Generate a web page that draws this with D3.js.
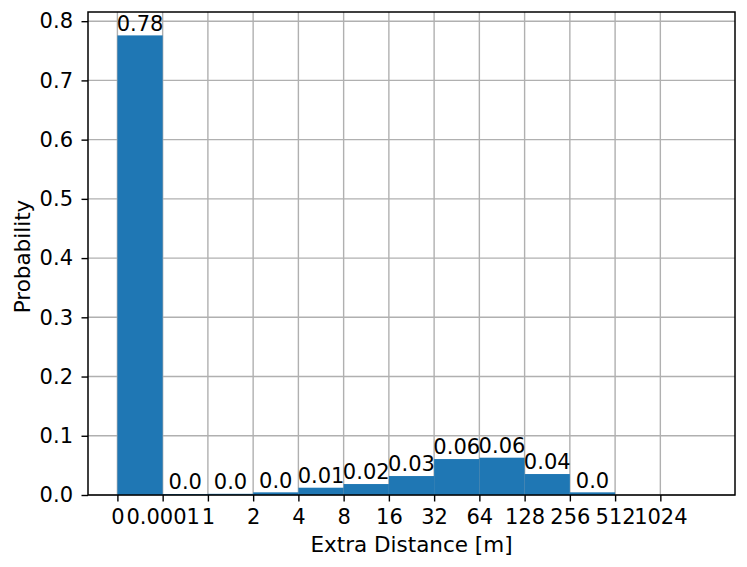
<!DOCTYPE html>
<html>
<head>
<meta charset="utf-8">
<script src="https://cdn.jsdelivr.net/npm/d3@7"></script>
<style>
  html, body { margin: 0; padding: 0; background: #fff; }
  svg text { font-family: "DejaVu Sans", sans-serif; fill: #000; }
</style>
</head>
<body>
<svg id="chart" width="747" height="567"></svg>
<script>
// Tick labels at bin edges
const edgeLabels = ["0", "0.0001", "1", "2", "4", "8", "16", "32", "64", "128", "256", "512", "1024"];
// Bar probabilities per bin (bin i spans edge i to edge i+1)
const probabilities = [0.776, 0.0017, 0.002, 0.0045, 0.0123, 0.0185, 0.032, 0.0607, 0.063, 0.0354, 0.0045];
const yTicks = [0.0, 0.1, 0.2, 0.3, 0.4, 0.5, 0.6, 0.7, 0.8];

(function () {
const svg = d3.select("#chart");
const mLeft = 88, mRight = 735, mTop = 12, mBottom = 495;
const fontSize = 21;
const labelSize = 21.5;

const x = d3.scaleLinear().domain([-0.65, 13.65]).range([mLeft, mRight]);
const y = d3.scaleLinear().domain([0, 0.8155]).range([mBottom, mTop]);

// grid
const grid = svg.append("g");
grid.selectAll("line.vg").data(edgeLabels).enter().append("line")
  .attr("x1", (d, i) => x(i)).attr("x2", (d, i) => x(i))
  .attr("y1", mTop).attr("y2", mBottom)
  .attr("stroke", "#b0b0b0").attr("stroke-width", 1.4);
grid.selectAll("line.hg").data(yTicks).enter().append("line")
  .attr("x1", mLeft).attr("x2", mRight)
  .attr("y1", d => y(d)).attr("y2", d => y(d))
  .attr("stroke", "#b0b0b0").attr("stroke-width", 1.4);

// bars
svg.append("g").selectAll("rect").data(probabilities).enter().append("rect")
  .attr("x", (d, i) => x(i))
  .attr("width", (d, i) => x(i + 1) - x(i))
  .attr("y", d => y(d))
  .attr("height", d => y(0) - y(d))
  .attr("fill", "#1f77b4");

// bar labels (python-style round to 2 decimals)
const fmt = v => { const r = Math.round(v * 100) / 100; return r === 0 ? "0.0" : String(r); };
svg.append("g").selectAll("text").data(probabilities).enter().append("text")
  .attr("x", (d, i) => x(i + 0.5))
  .attr("y", d => y(d) - 4.8)
  .attr("text-anchor", "middle")
  .attr("font-size", fontSize)
  .text(fmt);

// axes
const xAxis = d3.axisBottom(x)
  .tickValues(d3.range(edgeLabels.length))
  .tickFormat(i => edgeLabels[i])
  .tickSize(6.5).tickPadding(4).tickSizeOuter(0);
const gx = svg.append("g").attr("transform", `translate(0,${mBottom})`).call(xAxis);
gx.select(".domain").remove();
gx.selectAll(".tick line").attr("stroke", "#000").attr("stroke-width", 1.4);
gx.selectAll(".tick text").attr("font-size", fontSize).attr("font-family", "DejaVu Sans").attr("fill", "#000")
  .attr("y", 29).attr("dy", 0);

const yAxis = d3.axisLeft(y)
  .tickValues(yTicks)
  .tickFormat(d3.format(".1f"))
  .tickSize(6.5).tickPadding(8.5).tickSizeOuter(0);
const gy = svg.append("g").attr("transform", `translate(${mLeft},0)`).call(yAxis);
gy.select(".domain").remove();
gy.selectAll(".tick line").attr("stroke", "#000").attr("stroke-width", 1.4);
gy.selectAll(".tick text").attr("font-size", fontSize).attr("font-family", "DejaVu Sans").attr("fill", "#000");

// frame
svg.append("rect")
  .attr("x", mLeft).attr("y", mTop)
  .attr("width", mRight - mLeft).attr("height", mBottom - mTop)
  .attr("fill", "none").attr("stroke", "#000").attr("stroke-width", 1.5);

// axis labels
svg.append("text")
  .attr("x", (mLeft + mRight) / 2).attr("y", 552)
  .attr("text-anchor", "middle").attr("font-size", labelSize)
  .text("Extra Distance [m]");
svg.append("text")
  .attr("transform", `translate(30,${(mTop + mBottom) / 2 + 3}) rotate(-90)`)
  .attr("text-anchor", "middle").attr("font-size", labelSize)
  .text("Probability");
})();
</script>
</body>
</html>
